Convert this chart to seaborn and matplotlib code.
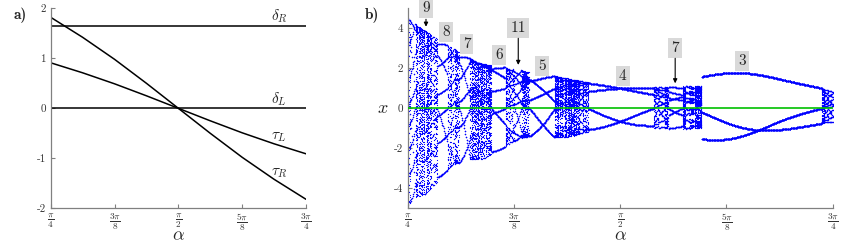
import numpy as np
import matplotlib
matplotlib.use("Agg")
import matplotlib.pyplot as plt
import seaborn as sns

## DATA
# panel a) parameter path along alpha
alpha_knots = np.pi * np.array([2, 2.5, 3, 3.5, 4, 4.5, 5, 5.5, 6]) / 8
tau_L = [0.91, 0.71, 0.49, 0.25, 0.0, -0.25, -0.49, -0.71, -0.91]
tau_R = [1.82, 1.42, 0.98, 0.50, 0.0, -0.50, -0.98, -1.42, -1.82]
delta_L = [0.0] * 9
delta_R = [1.65] * 9
mu = 1.0

# panel a) curve labels: text, alpha, value
curve_names = [r'$\delta_R$', r'$\delta_L$', r'$\tau_L$', r'$\tau_R$']
curve_lab_a = [2.19, 2.19, 2.19, 2.19]
curve_lab_v = [1.85, 0.19, -0.57, -1.29]

# panel b) period labels: text, alpha, x, arrow (start, tip) or None
period_text = ['9', '8', '7', '6', '11', '5', '4', '7', '3']
period_a = [0.853, 0.927, 1.003, 1.124, 1.194, 1.283, 1.580, 1.774, 2.020]
period_x = [4.99, 3.80, 3.20, 2.67, 4.03, 2.13, 1.62, 3.03, 2.37]
period_arrow = [(4.45, 4.08), None, None, None, (3.50, 2.17), None, None, (2.50, 1.25), None]

xtick_vals = np.pi * np.array([2, 3, 4, 5, 6]) / 8
xtick_labels = [r'$\frac{\pi}{4}$', r'$\frac{3\pi}{8}$', r'$\frac{\pi}{2}$',
                r'$\frac{5\pi}{8}$', r'$\frac{3\pi}{4}$']


## HELPERS
def style_axes(ax):
  for s in ['top', 'right']:
    ax.spines[s].set_visible(False)
  for s in ['left', 'bottom']:
    ax.spines[s].set_color('#808080')
    ax.spines[s].set_linewidth(0.9)
  ax.tick_params(direction='in', length=3, width=0.8, color='#808080',
                 labelcolor='#333333', labelsize=8)
  ax.tick_params(axis='x', labelsize=9.5, pad=2)
  ax.set_xlim(np.pi / 4, 3 * np.pi / 4)
  ax.set_xticks(xtick_vals)
  ax.set_xticklabels(xtick_labels)
  ax.set_xlabel(r'$\alpha$', fontsize=13, labelpad=-3)


def orbit_samples(n_alpha=700, n_skip=1500, n_keep=70):
  # border-collision normal form, iterated along the path of panel a)
  alphas = np.linspace(np.pi / 4, 3 * np.pi / 4, n_alpha)
  tl = np.interp(alphas, alpha_knots, tau_L)
  tr = np.interp(alphas, alpha_knots, tau_R)
  dl = np.interp(alphas, alpha_knots, delta_L)
  dr = np.interp(alphas, alpha_knots, delta_R)
  x = np.full(n_alpha, 0.1)
  y = np.zeros(n_alpha)
  xs = []
  with np.errstate(all='ignore'):
    for i in range(n_skip + n_keep):
      left = x <= 0
      xn = np.where(left, tl * x, tr * x) + y + mu
      yn = -np.where(left, dl * x, dr * x)
      x, y = xn, yn
      if i >= n_skip:
        xs.append(x.copy())
  xs = np.array(xs)
  aa = np.broadcast_to(alphas, xs.shape)
  ok = np.isfinite(xs) & (np.abs(xs) < 6)
  return aa[ok], xs[ok]


def main():
  sns.set_style('ticks')
  plt.rcParams['font.family'] = ['cmr10', 'DejaVu Serif']
  plt.rcParams['mathtext.fontset'] = 'cm'
  plt.rcParams['axes.unicode_minus'] = False
  plt.rcParams['axes.formatter.use_mathtext'] = True

  fig = plt.figure(figsize=(8.5, 2.45), dpi=100)
  ax1 = fig.add_axes([50.7 / 850, 1 - 208.3 / 245, 255.3 / 850, 200 / 245])
  ax2 = fig.add_axes([407.7 / 850, 1 - 208.3 / 245, 425 / 850, 200 / 245])

  # panel a)
  for vals in [delta_R, delta_L, tau_L, tau_R]:
    sns.lineplot(x=alpha_knots, y=vals, color='black', linewidth=1.1, ax=ax1)
  for name, a, v in zip(curve_names, curve_lab_a, curve_lab_v):
    ax1.text(a, v, name, fontsize=11, ha='center', va='center')
  style_axes(ax1)
  ax1.set_ylim(-2, 2)
  ax1.set_yticks([-2, -1, 0, 1, 2])
  ax1.set_yticklabels(['-2', '-1', '0', '1', '2'])

  # panel b)
  aa, xx = orbit_samples()
  sns.scatterplot(x=aa, y=xx, s=0.7, color='#0000ff', linewidth=0, ax=ax2)
  ax2.axhline(0, color='#00c000', linewidth=1.2, zorder=3)
  style_axes(ax2)
  ax2.set_ylim(-5, 5)
  ax2.set_yticks([-4, -2, 0, 2, 4])
  ax2.set_yticklabels(['-4', '-2', '0', '2', '4'])
  ax2.set_ylabel(r'$x$', fontsize=13, rotation=0, labelpad=8, va='center')
  for t, a, v, arr in zip(period_text, period_a, period_x, period_arrow):
    ax2.text(a, v, t, fontsize=11, ha='center', va='center', zorder=5, clip_on=False,
             bbox=dict(boxstyle='square,pad=0.2', fc='#d9d9d9', ec='none'))
    if arr is not None:
      ax2.annotate('', xy=(a, arr[1]), xytext=(a, arr[0]), zorder=5,
                   arrowprops=dict(arrowstyle='-|>', color='black', lw=0.8,
                                   mutation_scale=6, shrinkA=0, shrinkB=0))

  fig.text(20 / 850, 1 - 15 / 245, 'a)', family='cmb10', fontsize=11, ha='center', va='center')
  fig.text(372 / 850, 1 - 15 / 245, 'b)', family='cmb10', fontsize=11, ha='center', va='center')
  fig.savefig('out.png', dpi=100)


if __name__ == '__main__':
  main()
